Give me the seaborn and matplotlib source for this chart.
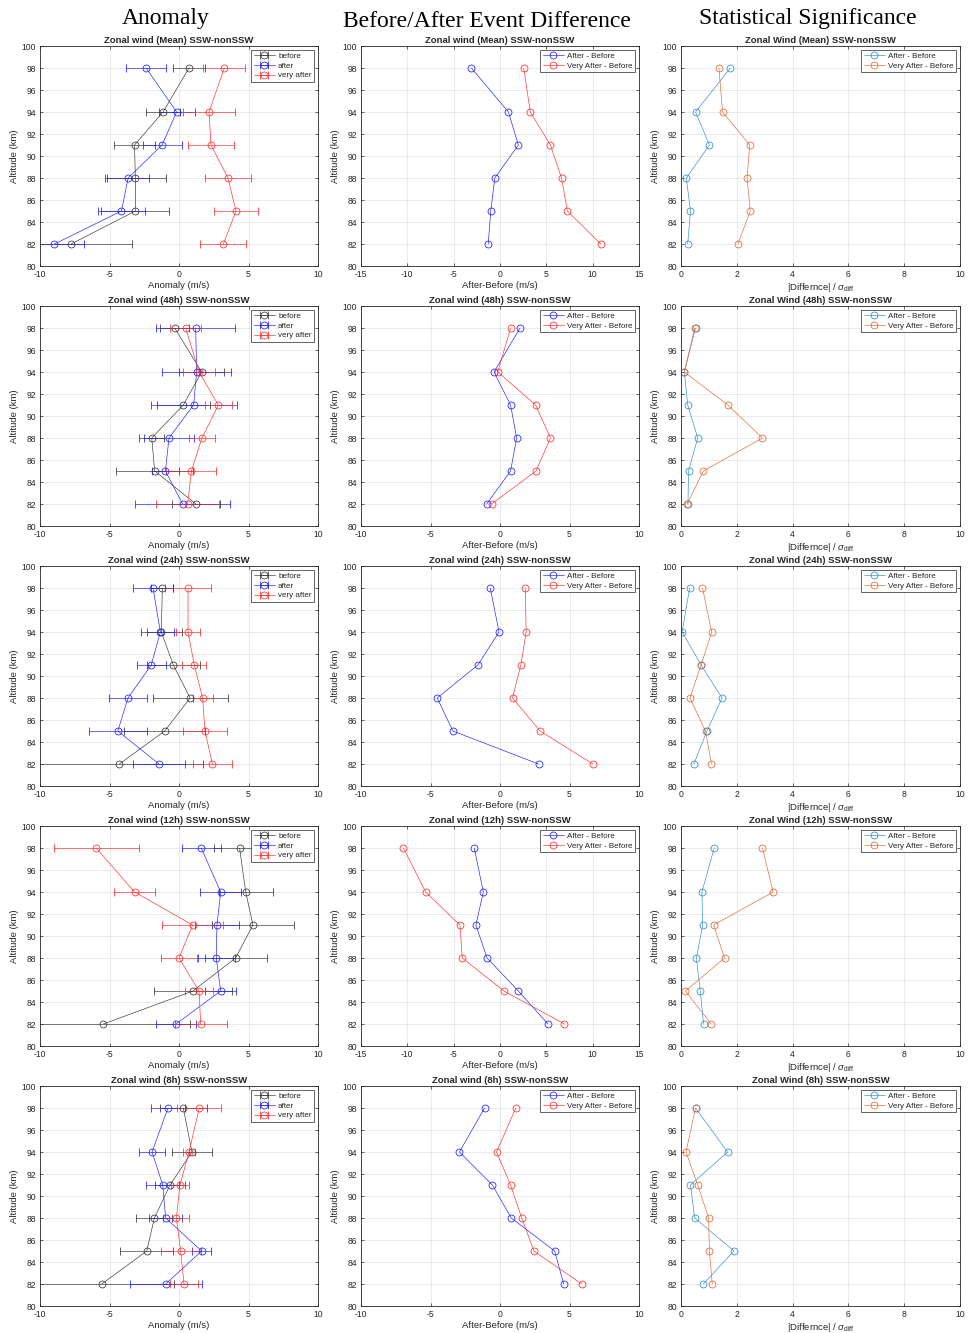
import matplotlib
matplotlib.use("Agg")
import matplotlib.pyplot as plt
import seaborn as sns
import pandas as pd

# ---------------------------------------------------------------- data
ALTITUDE = [82, 85, 88, 91, 94, 98]
WINDOWS = ["Mean", "48h", "24h", "12h", "8h"]

# anomalies (SSW - nonSSW, m/s) and their error half-widths
MEAN_BEFORE = [-7.76, -3.14, -3.14, -3.20, -1.15, 0.72]
MEAN_BEFORE_ERR = [4.4, 2.45, 2.2, 1.45, 1.2, 1.15]
MEAN_AFTER = [-8.96, -4.14, -3.66, -1.22, -0.17, -2.37]
MEAN_AFTER_ERR = [2.1, 1.7, 1.5, 1.4, 1.3, 1.42]
MEAN_VERY = [3.19, 4.10, 3.52, 2.30, 2.16, 3.26]
MEAN_VERY_ERR = [1.65, 1.6, 1.68, 1.68, 1.9, 1.5]

H48_BEFORE = [1.22, -1.75, -1.96, 0.31, 1.63, -0.31]
H48_BEFORE_ERR = [1.75, 2.78, 0.9, 1.9, 1.6, 1.05]
H48_AFTER = [0.26, -0.98, -0.72, 1.05, 1.27, 1.20]
H48_AFTER_ERR = [3.4, 0.95, 1.83, 3.1, 2.5, 2.85]
H48_VERY = [0.62, 0.89, 1.65, 2.83, 1.44, 0.48]
H48_VERY_ERR = [2.25, 1.8, 0.95, 0.95, 1.15, 1.1]

H24_BEFORE = [-4.29, -1.03, 0.80, -0.41, -1.27, -1.20]
H24_BEFORE_ERR = [6.0, 2.9, 2.7, 1.9, 1.48, 0.8]
H24_AFTER = [-1.44, -4.40, -3.67, -2.00, -1.34, -1.87]
H24_AFTER_ERR = [1.85, 2.1, 1.37, 1.03, 0.95, 1.46]
H24_VERY = [2.40, 1.87, 1.70, 1.10, 0.65, 0.65]
H24_VERY_ERR = [1.42, 1.6, 0.72, 0.87, 0.86, 1.67]

H12_BEFORE = [-5.44, 1.00, 4.07, 5.32, 4.80, 4.36]
H12_BEFORE_ERR = [6.26, 2.8, 2.23, 2.95, 1.93, 1.82]
H12_AFTER = [-0.22, 3.00, 2.68, 2.73, 3.00, 1.60]
H12_AFTER_ERR = [1.46, 1.1, 1.34, 1.56, 1.46, 1.42]
H12_VERY = [1.56, 1.44, 0.00, 0.98, -3.20, -5.96]
H12_VERY_ERR = [1.86, 1.03, 1.32, 2.17, 1.48, 3.05]

H8_BEFORE = [-5.56, -2.32, -1.77, -0.65, 0.93, 0.31]
H8_BEFORE_ERR = [5.2, 1.92, 1.3, 1.05, 1.46, 1.68]
H8_AFTER = [-0.96, 1.63, -0.96, -1.17, -1.94, -0.79]
H8_AFTER_ERR = [2.6, 0.7, 1.18, 1.17, 0.96, 1.25]
H8_VERY = [0.36, 0.12, -0.19, 0.07, 0.72, 1.46]
H8_VERY_ERR = [1.0, 1.45, 0.93, 0.67, 0.4, 1.58]

# before/after differences (m/s)
MEAN_DIFF_AB = [-1.27, -1.00, -0.56, 1.98, 0.91, -3.09]
MEAN_DIFF_VAB = [10.87, 7.27, 6.64, 5.44, 3.27, 2.56]
H48_DIFF_AB = [-0.96, 0.76, 1.20, 0.76, -0.43, 1.44]
H48_DIFF_VAB = [-0.61, 2.59, 3.63, 2.56, -0.16, 0.76]
H24_DIFF_AB = [2.77, -3.39, -4.52, -1.59, -0.07, -0.70]
H24_DIFF_VAB = [6.68, 2.89, 0.90, 1.50, 1.88, 1.82]
H12_DIFF_AB = [5.18, 1.98, -1.40, -2.60, -1.80, -2.78]
H12_DIFF_VAB = [6.96, 0.42, -4.07, -4.33, -8.02, -10.42]
H8_DIFF_AB = [4.58, 3.93, 0.81, -0.55, -2.92, -1.11]
H8_DIFF_VAB = [5.88, 2.44, 1.56, 0.76, -0.25, 1.14]

# significance |difference| / sigma_diff
MEAN_SIG_AB = [0.24, 0.34, 0.19, 1.02, 0.52, 1.77]
MEAN_SIG_VAB = [2.04, 2.48, 2.37, 2.46, 1.49, 1.36]
H48_SIG_AB = [0.25, 0.27, 0.60, 0.24, 0.12, 0.52]
H48_SIG_VAB = [0.22, 0.80, 2.92, 1.68, 0.12, 0.49]
H24_SIG_AB = [0.46, 0.93, 1.47, 0.72, 0.04, 0.31]
H24_SIG_VAB = [1.09, 0.88, 0.32, 0.72, 1.10, 0.77]
H12_SIG_AB = [0.81, 0.69, 0.55, 0.78, 0.75, 1.19]
H12_SIG_VAB = [1.08, 0.16, 1.56, 1.17, 3.30, 2.92]
H8_SIG_AB = [0.80, 1.90, 0.49, 0.34, 1.67, 0.52]
H8_SIG_VAB = [1.12, 1.02, 0.99, 0.60, 0.18, 0.52]

DIFF_XLIM = [15, 10, 10, 15, 10]

ANOMALY_LABELS = ["before", "after", "very after"]
DIFF_LABELS = ["After - Before", "Very After - Before"]
HEADERS = ["Anomaly", "Before/After Event Difference", "Statistical Significance"]

anomaly_rows = [
    (MEAN_BEFORE, MEAN_BEFORE_ERR, MEAN_AFTER, MEAN_AFTER_ERR, MEAN_VERY, MEAN_VERY_ERR),
    (H48_BEFORE, H48_BEFORE_ERR, H48_AFTER, H48_AFTER_ERR, H48_VERY, H48_VERY_ERR),
    (H24_BEFORE, H24_BEFORE_ERR, H24_AFTER, H24_AFTER_ERR, H24_VERY, H24_VERY_ERR),
    (H12_BEFORE, H12_BEFORE_ERR, H12_AFTER, H12_AFTER_ERR, H12_VERY, H12_VERY_ERR),
    (H8_BEFORE, H8_BEFORE_ERR, H8_AFTER, H8_AFTER_ERR, H8_VERY, H8_VERY_ERR),
]
diff_rows = [
    (MEAN_DIFF_AB, MEAN_DIFF_VAB), (H48_DIFF_AB, H48_DIFF_VAB),
    (H24_DIFF_AB, H24_DIFF_VAB), (H12_DIFF_AB, H12_DIFF_VAB),
    (H8_DIFF_AB, H8_DIFF_VAB),
]
sig_rows = [
    (MEAN_SIG_AB, MEAN_SIG_VAB), (H48_SIG_AB, H48_SIG_VAB),
    (H24_SIG_AB, H24_SIG_VAB), (H12_SIG_AB, H12_SIG_VAB),
    (H8_SIG_AB, H8_SIG_VAB),
]

# ---------------------------------------------------------------- style
sns.set_theme(style="whitegrid", rc={
    "axes.edgecolor": "#262626",
    "axes.linewidth": 0.6,
    "grid.color": "#e6e6e6",
    "grid.linewidth": 0.6,
    "xtick.direction": "in",
    "ytick.direction": "in",
    "xtick.bottom": True,
    "ytick.left": True,
    "xtick.top": True,
    "ytick.right": True,
    "xtick.major.size": 2.5,
    "ytick.major.size": 2.5,
    "xtick.major.width": 0.5,
    "ytick.major.width": 0.5,
    "xtick.color": "#262626",
    "ytick.color": "#262626",
    "xtick.major.pad": 3,
    "ytick.major.pad": 3,
    "axes.unicode_minus": False,
})
plt.rcParams["font.family"] = ["Liberation Sans", "DejaVu Sans"]
plt.rcParams["mathtext.fontset"] = "custom"
plt.rcParams["mathtext.rm"] = "Liberation Sans"
plt.rcParams["mathtext.it"] = "Liberation Sans:italic"

ANOM_COLORS = ["#333333", "#1a1aff", "#ff2a2a"]
DIFF_COLORS = ["#1a1aff", "#ff2a2a"]
SIG_COLORS = ["#2a8ccc", "#e0652f"]

LW = 0.45
TICK_FS = 6.2
LABEL_FS = 6.8
TITLE_FS = 6.8
LEGEND_FS = 5.8

fig = plt.figure(figsize=(9.71, 13.33), dpi=100)
W, H = 971, 1333
col_left = [40, 361, 681]
col_width = [278, 278, 279]
row_top = [46, 306, 566, 826, 1086]
row_height = 220


def make_axes(col, row):
    left = col_left[col] / W
    bottom = 1 - (row_top[row] + row_height) / H
    return fig.add_axes([left, bottom, col_width[col] / W, row_height / H])


def finish_axes(ax, title, xlabel, xlim, xticks):
    ax.set_xlim(*xlim)
    ax.set_ylim(80, 100)
    ax.set_xticks(xticks)
    ax.set_yticks(range(80, 101, 2))
    ax.tick_params(labelsize=TICK_FS, labelcolor="#262626")
    ax.set_title(title, fontsize=TITLE_FS, fontweight="bold", pad=2)
    ax.set_xlabel(xlabel, fontsize=LABEL_FS, labelpad=1, color="#262626")
    ax.set_ylabel("Altitude (km)", fontsize=LABEL_FS, labelpad=2, color="#262626")
    for sp in ax.spines.values():
        sp.set_visible(True)
        sp.set_color("#262626")
        sp.set_linewidth(0.6)


def add_legend(ax):
    leg = ax.legend(loc="upper right", fontsize=LEGEND_FS, frameon=True, fancybox=False,
                    edgecolor="#262626", framealpha=1, borderpad=0.3, labelspacing=0.25,
                    handlelength=2.6, handletextpad=0.4, borderaxespad=0.5)
    leg.get_frame().set_linewidth(0.5)


for r, window in enumerate(WINDOWS):
    # ---- anomalies with error bars
    ax = make_axes(0, r)
    b, be, a, ae, v, ve = anomaly_rows[r]
    for vals, errs, color, label in zip((b, a, v), (be, ae, ve), ANOM_COLORS, ANOMALY_LABELS):
        ax.errorbar(vals, ALTITUDE, xerr=errs, fmt="-o", color=color, lw=LW,
                    elinewidth=LW, capsize=2.6, capthick=LW, ms=5,
                    mfc="none", mec=color, mew=0.55, label=label)
    finish_axes(ax, f"Zonal wind ({window}) SSW-nonSSW", "Anomaly (m/s)",
                (-10, 10), [-10, -5, 0, 5, 10])
    add_legend(ax)

    # ---- before/after differences
    ax = make_axes(1, r)
    lim = DIFF_XLIM[r]
    for vals, color, label in zip(diff_rows[r], DIFF_COLORS, DIFF_LABELS):
        df = pd.DataFrame({"diff": vals, "alt": ALTITUDE})
        sns.lineplot(data=df, x="diff", y="alt", orient="y", ax=ax, color=color,
                     lw=LW, marker="o", ms=5, markerfacecolor="none",
                     markeredgecolor=color, markeredgewidth=0.55, label=label)
    finish_axes(ax, f"Zonal wind ({window}) SSW-nonSSW", "After-Before (m/s)",
                (-lim, lim), list(range(-lim, lim + 1, 5)))
    add_legend(ax)

    # ---- significance
    ax = make_axes(2, r)
    for vals, color, label in zip(sig_rows[r], SIG_COLORS, DIFF_LABELS):
        df = pd.DataFrame({"sig": vals, "alt": ALTITUDE})
        sns.lineplot(data=df, x="sig", y="alt", orient="y", ax=ax, color=color,
                     lw=LW, marker="o", ms=5, markerfacecolor="none",
                     markeredgecolor=color, markeredgewidth=0.55, label=label)
    finish_axes(ax, f"Zonal Wind ({window}) SSW-nonSSW",
                r"|Differnce| / $\sigma_{\mathrm{diff}}$", (0, 10), [0, 2, 4, 6, 8, 10])
    add_legend(ax)

# column headers (baseline positions in pixels from the top)
header_x = [166, 487, 808]
header_baseline = [24, 27, 24]
for text, x, y in zip(HEADERS, header_x, header_baseline):
    fig.text(x / W, 1 - y / H, text, ha="center", va="baseline", fontsize=17,
             family=["Liberation Serif", "DejaVu Serif"], color="black")

fig.savefig("out.png", dpi=100)
